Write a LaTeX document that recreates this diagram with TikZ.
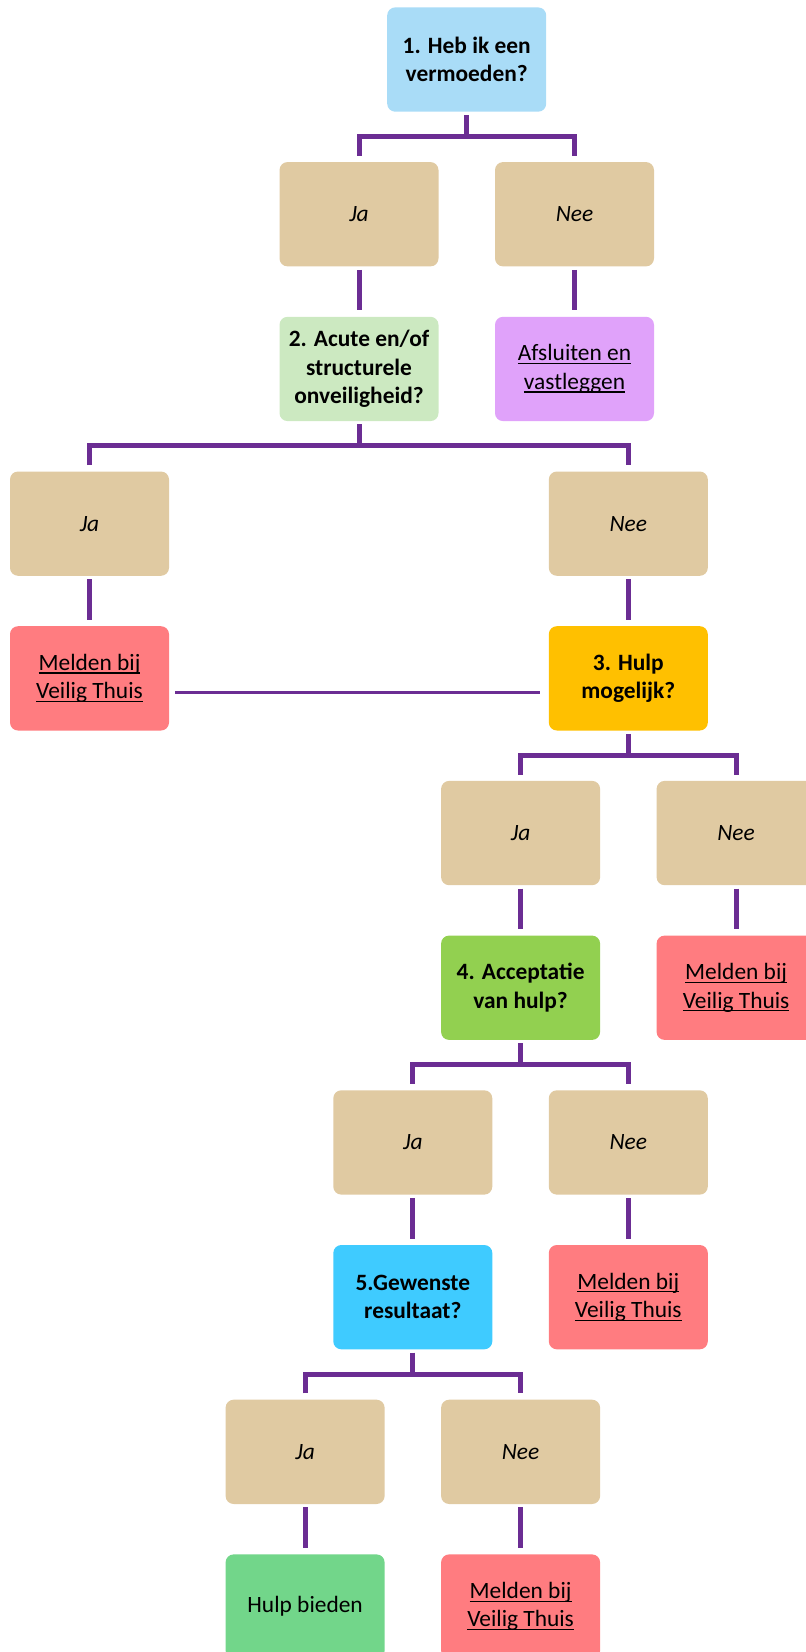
\documentclass[tikz,border=0pt]{standalone}
\usepackage{fontspec}
\setmainfont{Carlito}
\usetikzlibrary{calc}
\definecolor{tanc}{HTML}{E0CAA2}
\definecolor{qone}{HTML}{A9DCF7}
\definecolor{qtwo}{HTML}{CCE9C1}
\definecolor{lav}{HTML}{E0A2FA}
\definecolor{redc}{HTML}{FF7C80}
\definecolor{orc}{HTML}{FFC000}
\definecolor{grc}{HTML}{92D050}
\definecolor{cyc}{HTML}{3FCBFF}
\definecolor{hgc}{HTML}{72D68A}
\definecolor{purp}{HTML}{6B2D93}
\newcommand{\myul}[1]{\leavevmode\setbox0\hbox{#1}\rlap{\rule[-1.7pt]{\wd0}{0.65pt}}\box0}
\tikzset{
  box/.style={rectangle, rounded corners=4pt, minimum width=79.5pt, minimum height=52.15pt,
    inner sep=0pt, align=center, font=\fontsize{11.7}{14.2}\selectfont},
  yn/.style={box, fill=tanc, font=\fontsize{11.7}{14.2}\selectfont\itshape},
  qbox/.style={box, font=\fontsize{11.7}{14.2}\selectfont\bfseries},
  conn/.style={draw=purp, line width=2.5pt, line join=miter, line cap=butt},
  thinconn/.style={draw=purp, line width=1.4pt},
}
\newcommand{\branch}[3]{%
  \draw[conn] ([yshift=-1.5pt]#1.south) -- ([yshift=-12.2pt]#1.south);
  \draw[conn] ([yshift=3pt]#2.north) |- ([yshift=-12.2pt]#1.south) -| ([yshift=3pt]#3.north);
}
\newcommand{\stem}[2]{%
  \draw[conn] ([yshift=-1.5pt]#1.south) -- ([yshift=3pt]#2.north);
}
\begin{document}
\begin{tikzpicture}[x=0.5pt,y=-0.5pt]
\useasboundingbox (0,0) rectangle (806,1652);
% rows
\node[qbox, fill=qone] (q1) at (466.7,59.55) {1. Heb ik een\\vermoeden?};
\node[yn] (j1) at (359.0,214.25) {Ja};
\node[yn] (n1) at (574.5,214.25) {Nee};
\node[qbox, fill=qtwo] (q2) at (359.0,368.95) {2. Acute en/of\\structurele\\onveiligheid?};
\node[box, fill=lav] (afs) at (574.5,368.95) {\myul{Afsluiten en}\\\myul{vastleggen}};
\node[yn] (j2) at (89.5,523.65) {Ja};
\node[yn] (n2) at (628.3,523.65) {Nee};
\node[box, fill=redc] (m2) at (89.5,678.35) {\myul{Melden bij}\\\myul{Veilig Thuis}};
\node[qbox, fill=orc] (q3) at (628.3,678.35) {3. Hulp\\mogelijk?};
\node[yn] (j3) at (520.6,833.05) {Ja};
\node[yn] (n3) at (736.1,833.05) {Nee};
\node[qbox, fill=grc] (q4) at (520.6,987.75) {4. Acceptatie\\van hulp?};
\node[box, fill=redc] (m3) at (736.1,987.75) {\myul{Melden bij}\\\myul{Veilig Thuis}};
\node[yn] (j4) at (412.8,1142.45) {Ja};
\node[yn] (n4) at (628.3,1142.45) {Nee};
\node[qbox, fill=cyc] (q5) at (412.8,1297.15) {5.Gewenste\\resultaat?};
\node[box, fill=redc] (m4) at (628.3,1297.15) {\myul{Melden bij}\\\myul{Veilig Thuis}};
\node[yn] (j5) at (305.1,1451.85) {Ja};
\node[yn] (n5) at (520.6,1451.85) {Nee};
\node[box, fill=hgc] (hb) at (305.1,1606.55) {Hulp bieden};
\node[box, fill=redc] (m5) at (520.6,1606.55) {\myul{Melden bij}\\\myul{Veilig Thuis}};
% connectors
\branch{q1}{j1}{n1}
\stem{j1}{q2}
\stem{n1}{afs}
\branch{q2}{j2}{n2}
\stem{j2}{m2}
\stem{n2}{q3}
\draw[thinconn] ([xshift=3pt,yshift=-7pt]m2.east) -- ([xshift=-4.3pt,yshift=-7pt]q3.west);
\branch{q3}{j3}{n3}
\stem{j3}{q4}
\stem{n3}{m3}
\branch{q4}{j4}{n4}
\stem{j4}{q5}
\stem{n4}{m4}
\branch{q5}{j5}{n5}
\stem{j5}{hb}
\stem{n5}{m5}
\end{tikzpicture}
\end{document}
